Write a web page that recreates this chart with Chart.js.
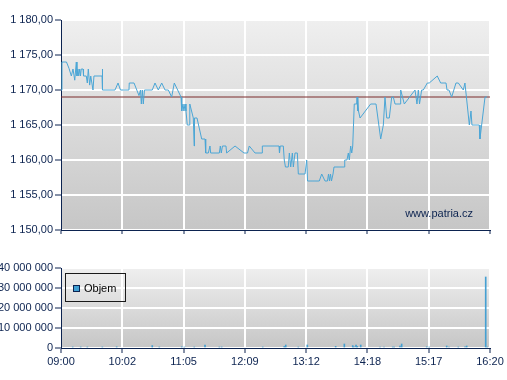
<!DOCTYPE html>
<html>
<head>
<meta charset="utf-8">
<script src="https://cdn.jsdelivr.net/npm/chart.js@4.4.0/dist/chart.umd.min.js"></script>
<style>
    html, body { margin: 0; padding: 0; background: #ffffff; }
    #wrap { position: relative; width: 507px; height: 380px; overflow: hidden; }
    canvas { position: absolute; left: 0; }
    #priceCanvas { top: 0; }
    #volumeCanvas { top: 240px; }
</style>
</head>
<body>
<div id="wrap">
    <canvas id="priceCanvas" width="507" height="240"></canvas>
    <canvas id="volumeCanvas" width="507" height="140"></canvas>
</div>
<script>
    'use strict';

    // Time axis: minutes from session start, ticks spread evenly over the session
    const tickLabels = ['09:00', '10:02', '11:05', '12:09', '13:12', '14:18', '15:17', '16:20'];
    const sessionLength = 440;

    // Price series (minutes from 09:00, price)
    const priceTimes = [
        0, 1.0, 5.6, 8.2, 10.6, 12.3, 14.1, 15.7, 16.4, 17.4, 18.2, 19.2, 20.0, 20.8, 22.6, 23.1,
        25.9, 27.0, 28.0, 29.4, 30.5, 32.8, 33.8, 42.1, 42.4, 42.7, 55.4, 58.5, 61.0, 69.7, 70.0,
        74.9, 80.0, 81.5, 82.4, 83.4, 84.4, 85.6, 93.6, 96.4, 99.8, 103.3, 106.7, 110.1, 113.5,
        116.2, 123.1, 123.8, 125.1, 126.1, 127.2, 128.2, 129.5, 131.3, 132.1, 135.7, 136.6, 136.9,
        139.5, 144.3, 147.7, 148.4, 151.1, 152.8, 153.5, 162.4, 163.4, 164.4, 165.6, 169.2, 169.9,
        178.5, 187.7, 191.3, 193.1, 199.0, 206.2, 206.5, 223.6, 224.1, 224.9, 228.0, 229.0, 230.2,
        233.1, 234.2, 235.6, 237.3, 238.3, 240.0, 242.4, 243.4, 250.3, 252.0, 252.9, 264.9, 267.4,
        270.8, 273.3, 274.4, 275.4, 276.4, 277.4, 279.0, 280.0, 284.1, 290.3, 291.0, 293.3, 294.7,
        295.7, 297.1, 298.2, 299.2, 300.8, 303.3, 303.6, 304.1, 304.6, 305.1, 306.7, 317.6, 323.1,
        327.9, 330.6, 332.3, 334.1, 336.7, 339.2, 340.8, 342.6, 347.7, 348.4, 352.1, 363.1, 365.1,
        366.5, 367.7, 369.9, 371.6, 375.7, 377.7, 385.9, 389.4, 394.9, 395.9, 397.9, 400.7, 405.1,
        407.5, 412.6, 414.3, 418.8, 420.5, 421.5, 429.0, 429.7, 434.9, 437.0
    ];
    const priceValues = [
        1170, 1174, 1174, 1173.1, 1172, 1173, 1171.4, 1174, 1172, 1173, 1172, 1173, 1172, 1173, 1173, 1172,
        1172, 1171, 1173, 1170.7, 1172, 1170, 1172, 1172, 1173, 1170, 1170, 1171, 1170, 1170, 1171,
        1171, 1169.2, 1170, 1168, 1170, 1168, 1170, 1170, 1171, 1170, 1171, 1170, 1170, 1169,
        1171, 1169, 1167, 1168, 1167, 1168, 1167, 1165, 1165, 1168, 1166, 1162, 1166,
        1166, 1163, 1163, 1161, 1161, 1162, 1161, 1161, 1162, 1161, 1162, 1162, 1161,
        1162, 1161, 1161, 1162, 1161, 1161, 1162, 1162, 1161, 1162, 1162, 1160, 1159,
        1159, 1161, 1159, 1161, 1159, 1161, 1161, 1158, 1158, 1160, 1157, 1157, 1158,
        1157, 1157, 1158, 1157, 1158, 1157, 1158, 1159, 1159, 1159, 1160, 1160, 1161,
        1160, 1162, 1161, 1162, 1168, 1168, 1169, 1167, 1169, 1167, 1166, 1168, 1168,
        1163, 1165, 1169, 1166, 1166, 1169, 1169, 1168, 1168, 1170, 1168, 1170, 1168,
        1170, 1168, 1170, 1170, 1171, 1171, 1172, 1171, 1171, 1170, 1170, 1169, 1171,
        1171, 1170, 1171, 1165, 1167, 1165, 1165, 1163, 1169, 1169
    ];
    const referencePrice = 1169;

    // Volume series (minutes from 09:00, shares)
    const volumeTimes = [
        12.0, 20.2, 27.0, 42.4, 57.1, 93.6, 100.8, 123.8, 126.5, 136.7, 147.7, 162.4, 164.8,
        206.9, 229.0, 230.5, 243.4, 252.6, 281.7, 290.6, 299.2, 300.5, 302.6, 303.9, 307.4,
        327.2, 331.3, 340.2, 341.8, 347.7, 349.4, 375.1, 377.7, 395.6, 397.9, 407.5, 414.4,
        416.1, 435.6, 437.2
    ];
    const volumeValues = [
        500000, 500000, 500000, 500000, 600000, 1200000, 500000, 600000, 500000, 500000, 1500000, 500000, 500000,
        500000, 800000, 1500000, 500000, 1500000, 800000, 2000000, 1200000, 600000, 1500000, 800000, 1500000,
        500000, 500000, 500000, 500000, 1000000, 2000000, 600000, 500000, 1000000, 500000, 500000, 600000,
        1000000, 35500000, 500000
    ];

    const axisColor = '#0c2350';
    const fontSpec = { family: "'Liberation Sans', Arial, sans-serif", size: 11 };
    const tickPositions = tickLabels.map((_, i) => i * sessionLength / (tickLabels.length - 1));

    // Czech number format: space thousands separator, comma decimals
    function czNumber(v, decimals) {
        const parts = v.toFixed(decimals).split('.');
        const whole = parts[0].replace(/\B(?=(\d{3})+(?!\d))/g, ' ');
        return parts.length > 1 ? whole + ',' + parts[1] : whole;
    }

    function setTimeTicks(scale) {
        scale.ticks = tickPositions.map(v => ({ value: v }));
    }

    const plotBackground = {
        id: 'plotBackground',
        beforeDraw(chart, args, opts) {
            const { ctx, chartArea: a } = chart;
            const g = ctx.createLinearGradient(0, a.top, 0, a.bottom);
            g.addColorStop(0, opts.from);
            g.addColorStop(1, opts.to);
            ctx.save();
            ctx.fillStyle = g;
            ctx.fillRect(a.left, a.top, a.right - a.left, a.bottom - a.top);
            ctx.restore();
        }
    };

    const watermark = {
        id: 'watermark',
        afterDraw(chart) {
            const { ctx, chartArea: a } = chart;
            ctx.save();
            ctx.font = "11px 'Liberation Sans', Arial, sans-serif";
            ctx.fillStyle = axisColor;
            ctx.textAlign = 'right';
            ctx.textBaseline = 'middle';
            ctx.fillText('www.patria.cz', a.right - 17, a.bottom - 16);
            ctx.restore();
        }
    };

    const volumeLegend = {
        id: 'volumeLegend',
        afterDraw(chart) {
            const { ctx, chartArea: a } = chart;
            const x = a.left + 4, y = a.top + 5;
            ctx.save();
            ctx.strokeStyle = '#1a1a1a';
            ctx.lineWidth = 1;
            ctx.strokeRect(x + 0.5, y + 0.5, 60, 28);
            ctx.fillStyle = '#3f9fd3';
            ctx.fillRect(x + 8, y + 12, 7, 7);
            ctx.strokeStyle = '#0c2350';
            ctx.strokeRect(x + 8.5, y + 12.5, 6, 6);
            ctx.fillStyle = '#000000';
            ctx.font = "11px 'Liberation Sans', Arial, sans-serif";
            ctx.textBaseline = 'middle';
            ctx.fillText('Objem', x + 19, y + 16);
            ctx.restore();
        }
    };

    const gridStyle = {
        color: '#ffffff',
        lineWidth: 2,
        tickColor: axisColor,
        tickWidth: 1
    };

    new Chart(document.getElementById('priceCanvas'), {
        type: 'line',
        data: {
            datasets: [{
                data: priceTimes.map((t, i) => ({ x: t, y: priceValues[i] })),
                borderColor: '#4ba6d6',
                borderWidth: 1,
                pointRadius: 0,
                tension: 0
            }, {
                data: [{ x: 0, y: referencePrice }, { x: sessionLength, y: referencePrice }],
                borderColor: '#7a2a2a',
                borderWidth: 1,
                pointRadius: 0
            }]
        },
        options: {
            responsive: false,
            animation: false,
            devicePixelRatio: 1,
            layout: { padding: { top: 20, right: 17, left: 0, bottom: 0 } },
            plugins: {
                legend: { display: false },
                tooltip: { enabled: false },
                plotBackground: { from: '#efefef', to: '#c6c6c6' }
            },
            scales: {
                x: {
                    type: 'linear',
                    min: 0,
                    max: sessionLength,
                    afterBuildTicks: setTimeTicks,
                    afterFit(s) { s.height = 10; },
                    ticks: { display: false },
                    grid: Object.assign({ tickLength: 4 }, gridStyle),
                    border: { color: axisColor, width: 1 }
                },
                y: {
                    min: 1150,
                    max: 1180,
                    afterFit(s) { s.width = 61; },
                    ticks: {
                        stepSize: 5,
                        color: axisColor,
                        font: fontSpec,
                        padding: 2,
                        callback: v => czNumber(v, 2)
                    },
                    grid: Object.assign({ tickLength: 6 }, gridStyle),
                    border: { color: axisColor, width: 1 }
                }
            }
        },
        plugins: [plotBackground, watermark]
    });

    new Chart(document.getElementById('volumeCanvas'), {
        type: 'bar',
        data: {
            datasets: [{
                data: volumeTimes.map((t, i) => ({ x: t, y: volumeValues[i] })),
                backgroundColor: '#45a0d2',
                barThickness: 1,
                grouped: false
            }]
        },
        options: {
            responsive: false,
            animation: false,
            devicePixelRatio: 1,
            layout: { padding: { top: 28, right: 17, left: 0, bottom: 0 } },
            plugins: {
                legend: { display: false },
                tooltip: { enabled: false },
                plotBackground: { from: '#efefef', to: '#c6c6c6' }
            },
            scales: {
                x: {
                    type: 'linear',
                    offset: false,
                    min: 0,
                    max: sessionLength,
                    afterBuildTicks: setTimeTicks,
                    afterFit(s) { s.height = 32; },
                    ticks: {
                        color: axisColor,
                        font: fontSpec,
                        padding: 2,
                        autoSkip: false,
                        maxRotation: 0,
                        callback: (v, i) => tickLabels[i]
                    },
                    grid: Object.assign({ tickLength: 5, offset: false }, gridStyle),
                    border: { color: axisColor, width: 1 }
                },
                y: {
                    min: 0,
                    max: 40000000,
                    afterFit(s) { s.width = 61; },
                    ticks: {
                        stepSize: 10000000,
                        color: axisColor,
                        font: fontSpec,
                        padding: 2,
                        callback: v => czNumber(v, 0)
                    },
                    grid: Object.assign({ tickLength: 6 }, gridStyle),
                    border: { color: axisColor, width: 1 }
                }
            }
        },
        plugins: [plotBackground, volumeLegend]
    });
</script>
</body>
</html>
